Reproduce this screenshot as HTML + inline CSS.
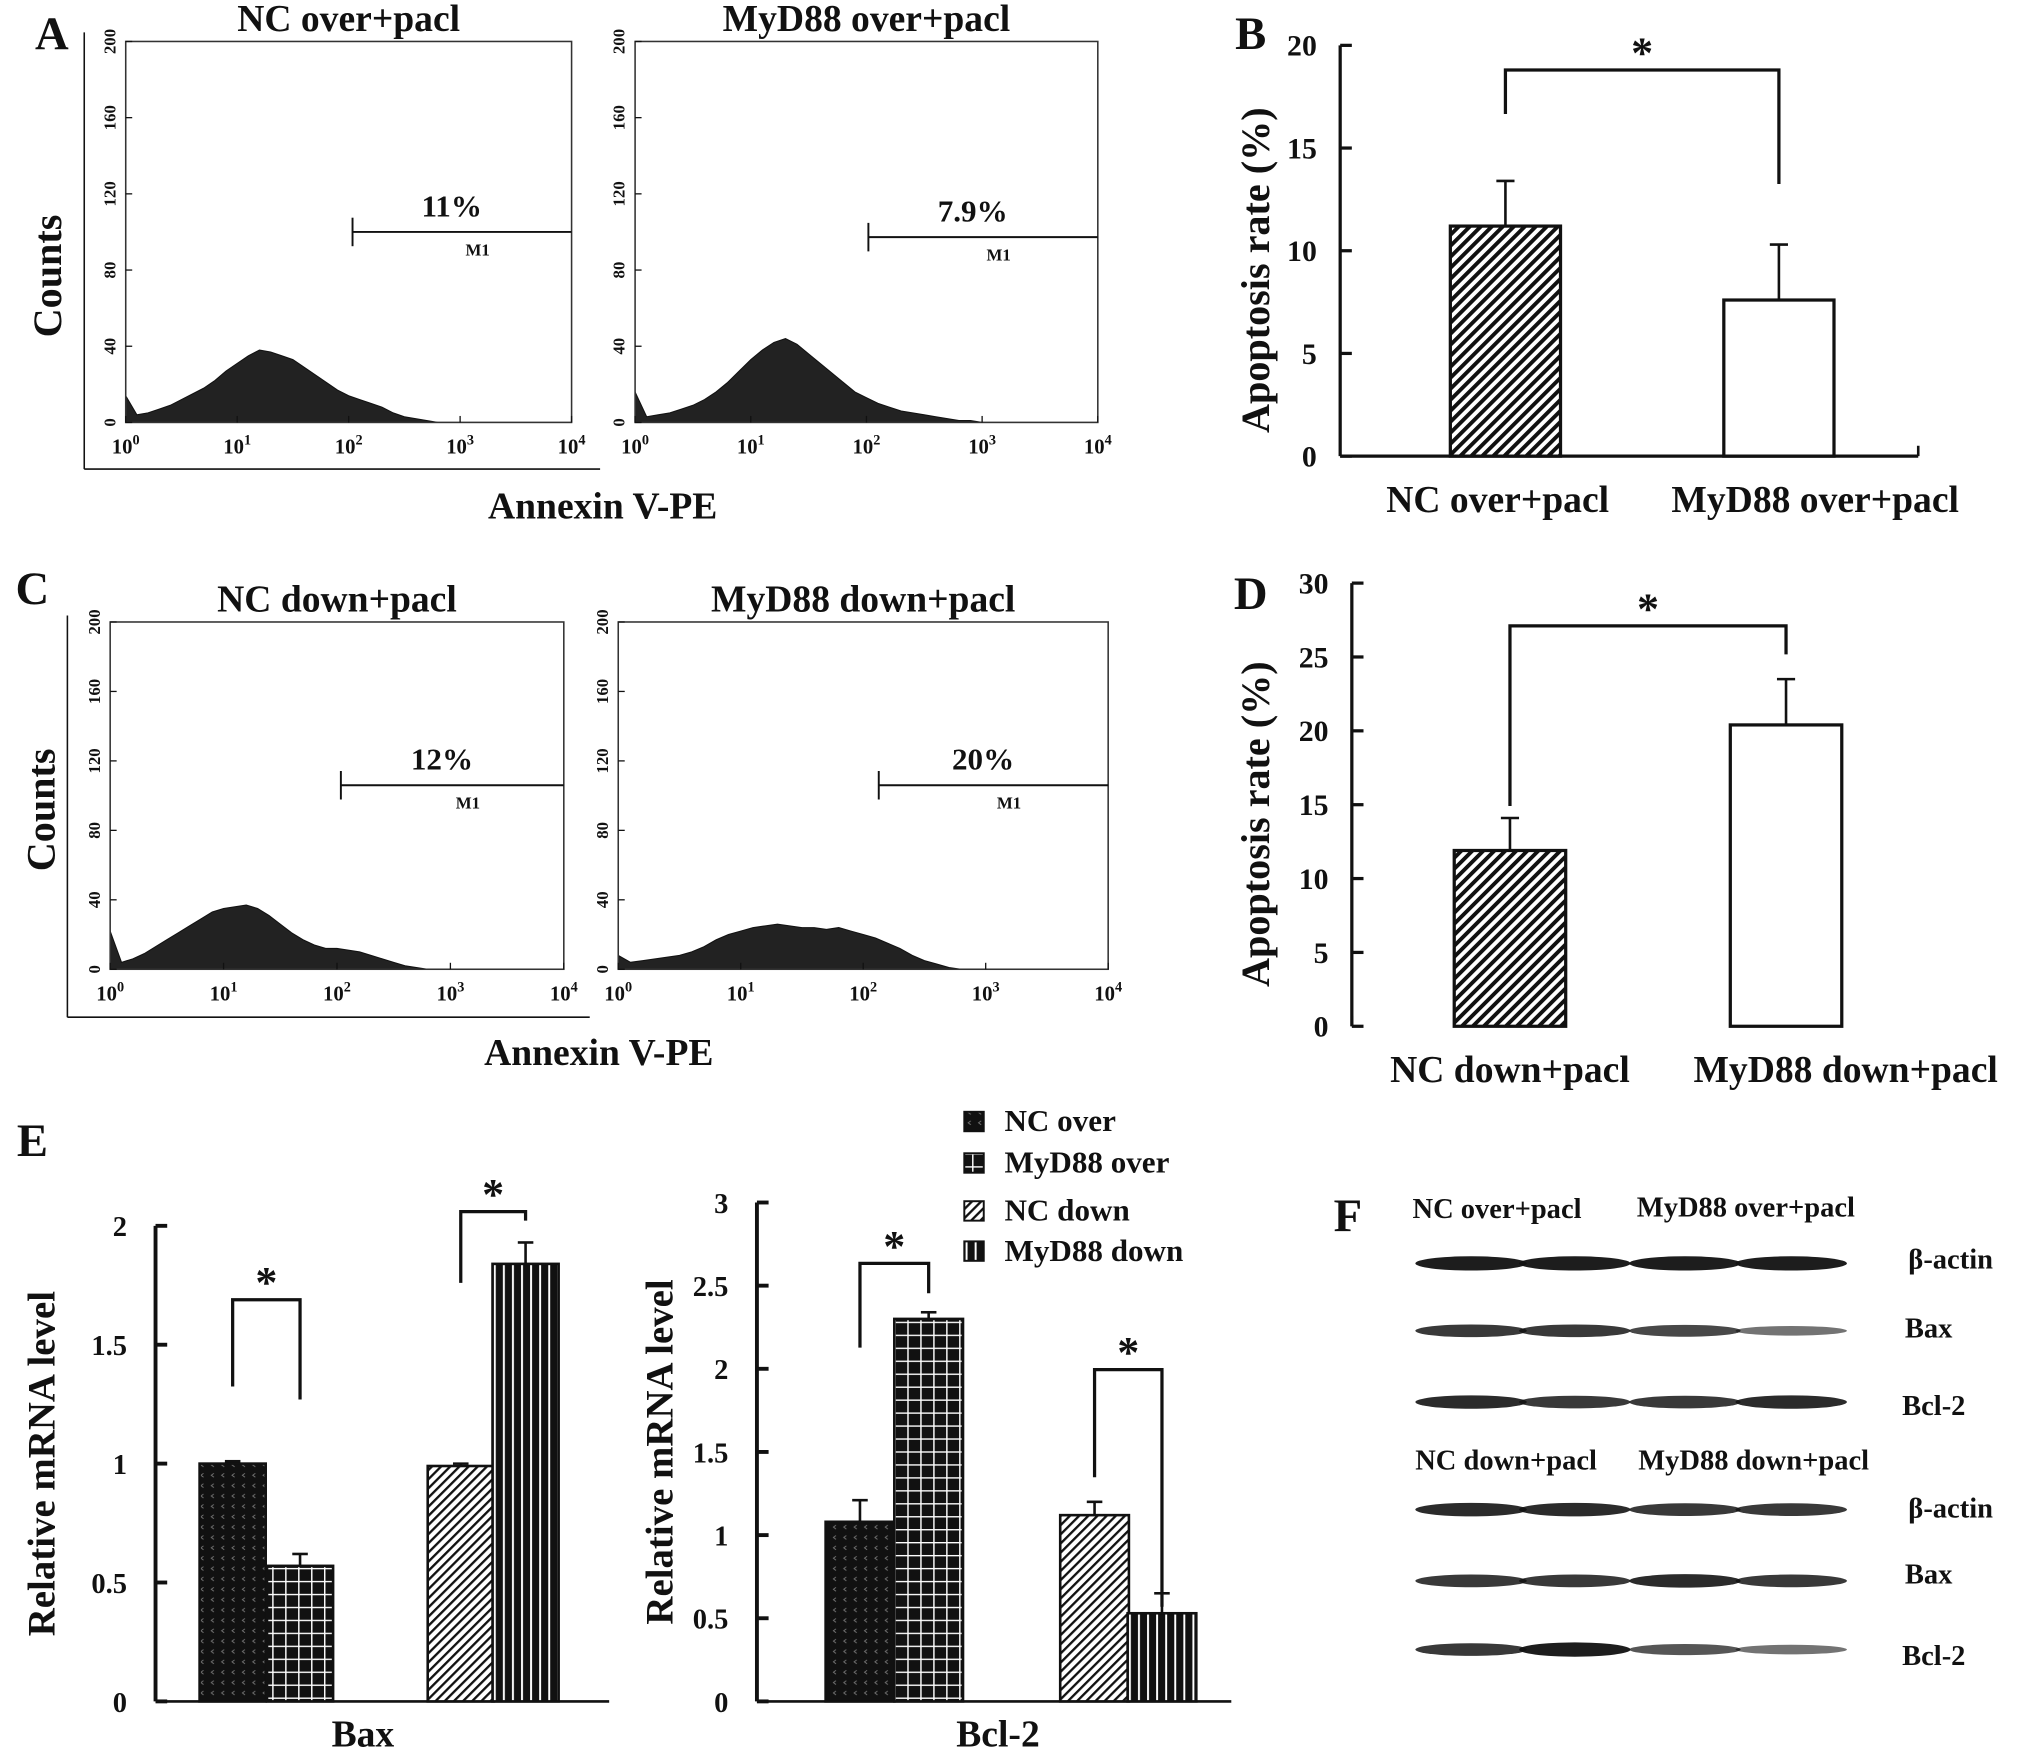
<!DOCTYPE html>
<html><head><meta charset="utf-8">
<style>
html,body{margin:0;padding:0;background:#fff;}
svg{display:block;}
text{font-family:"Liberation Serif",serif;font-weight:bold;fill:#111;}
</style></head>
<body>
<svg id="fig" width="2031" height="1761" viewBox="0 0 1567 1359" preserveAspectRatio="none" xmlns="http://www.w3.org/2000/svg">
<defs>
<pattern id="pDiag" width="6" height="6" patternUnits="userSpaceOnUse" patternTransform="rotate(45)"><rect width="6" height="6" fill="#fff"/><rect width="3" height="6" fill="#111"/></pattern>
<pattern id="pDiag2" width="5" height="5" patternUnits="userSpaceOnUse" patternTransform="rotate(45)"><rect width="5" height="5" fill="#fff"/><rect width="1.8" height="5" fill="#111"/></pattern>
<pattern id="pDots" width="8" height="8" patternUnits="userSpaceOnUse"><rect width="8" height="8" fill="#111"/><path d="M5 1 L3 2.5 L5 4" stroke="#777" stroke-width="0.7" fill="none"/></pattern>
<pattern id="pGrid" width="10" height="10" patternUnits="userSpaceOnUse"><rect width="10" height="10" fill="#111"/><path d="M0 0.5 H10 M0.5 0 V10" stroke="#fff" stroke-width="1.2"/></pattern>
<pattern id="pVert" width="7" height="7" patternUnits="userSpaceOnUse"><rect width="7" height="7" fill="#111"/><rect x="3" width="1.5" height="7" fill="#fff"/></pattern>
</defs>
<g id="root"></g>
</svg>
<script>
// ---- Data ----
const histXLog = [0,0.1,0.2,0.3,0.4,0.5,0.6,0.7,0.8,0.9,1.0,1.1,1.2,1.3,1.4,1.5,1.6,1.7,1.8,1.9,2.0,2.1,2.2,2.3,2.4,2.5,2.6,2.7,2.8,2.9,3.0,3.1,3.2,3.3,3.4,3.5,3.6,3.7,3.8,3.9,4.0];
const histNCover   = [14,4,5,7,9,12,15,18,22,27,31,35,38,37,35,33,29,25,21,17,14,12,10,8,5,3,2,1,0,0,0,0,0,0,0,0,0,0,0,0,0];
const histMyDover  = [16,3,4,5,7,9,12,16,21,27,33,38,42,44,41,36,31,26,21,16,13,10,8,6,5,4,3,2,1,1,0,0,0,0,0,0,0,0,0,0,0];
const histNCdown   = [22,4,6,9,13,17,21,25,29,33,35,36,37,35,31,26,21,17,14,12,12,11,10,8,6,4,2,1,0,0,0,0,0,0,0,0,0,0,0,0,0];
const histMyDdown  = [8,4,5,6,7,8,10,13,17,20,22,24,25,26,25,24,24,23,24,22,20,18,15,12,8,5,3,1,0,0,0,0,0,0,0,0,0,0,0,0,0];
const histYTicks = [0,40,80,120,160,200];
const histXTicks = ["0","1","2","3","4"];

const bCats = ["NC over+pacl","MyD88 over+pacl"];
const bVals = [11.2,7.6];
const bErr  = [2.2,2.7];
const bTicks = [0,5,10,15,20];
const dCats = ["NC down+pacl","MyD88 down+pacl"];
const dVals = [11.9,20.4];
const dErr  = [2.2,3.1];
const dTicks = [0,5,10,15,20,25,30];

const eSeries = ["NC over","MyD88 over","NC down","MyD88 down"];
const baxVals = [1.0,0.57,0.99,1.84];
const baxErr  = [0.01,0.05,0.01,0.09];
const baxTicks = [0,0.5,1,1.5,2];
const bclVals = [1.08,2.30,1.12,0.53];
const bclErr  = [0.13,0.04,0.08,0.12];
const bclTicks = [0,0.5,1,1.5,2,2.5,3];

const root = document.getElementById('root');
const NS = "http://www.w3.org/2000/svg";
function el(tag, attrs, parent){const e=document.createElementNS(NS,tag);for(const k in attrs)e.setAttribute(k,attrs[k]);(parent||root).appendChild(e);return e;}
function txt(x,y,s,size,name,extra){const t=el('text',Object.assign({x:x,y:y,'font-size':size,'text-anchor':'middle'},extra||{}));t.textContent=s;


return t;}
function line(x1,y1,x2,y2,w,name){const l=el('line',{x1,y1,x2,y2,stroke:'#111','stroke-width':w||2});


return l;}

// ---- Flow histograms ----
function hist(cfg){
  const g=el('g',{});
  
  
  const {x0,x1,y0,y1}=cfg;
  const sx=v=>x0+(x1-x0)*v/4, sy=v=>y1-(y1-y0)*v/200;
  let d=`M${sx(0)} ${sy(0)}`;
  cfg.data.forEach((v,i)=>{d+=` L${sx(histXLog[i])} ${sy(v)}`;});
  d+=` L${sx(4)} ${sy(0)} Z`;
  const p=el('path',{d,fill:'#222',stroke:'#111','stroke-width':0.8},g);
  
  
  const r=el('rect',{x:x0,y:y0,width:x1-x0,height:y1-y0,fill:'none',stroke:'#333','stroke-width':1.2},g);
  
  
  histYTicks.forEach(t=>{const y=sy(t);line(x0,y,x0+5,y,1,'y-tick');
    txt(x0-11,y,String(t),13,'y-tick-label',{transform:`rotate(-90 ${x0-11} ${y})`,'font-weight':'normal','dominant-baseline':'middle'});});
  histXTicks.forEach((t,i)=>{const x=sx(i);line(x,y1,x,y1-5,1,'x-tick');
    const tt=txt(x,y1+24,'10',16,'x-tick-label',{'font-weight':'normal'});
    const s=el('tspan',{dy:-7,'font-size':11},tt);s.textContent=t;});
  line(cfg.m0,cfg.my,x1,cfg.my,1.5,'marker-m1');
  line(cfg.m0,cfg.my-11,cfg.m0,cfg.my+11,1.5,'marker-m1-tick');
  txt((cfg.m0+x1)/2-8,cfg.my-12,cfg.pct,24,'percent-label');
  txt((cfg.m0+x1)/2+12,cfg.my+18,'M1',13,'marker-label',{'font-family':'Liberation Sans','font-weight':'normal'});
  txt((x0+x1)/2,y0-8,cfg.title,29,'histogram-title');
}
hist({name:'hist-nc-over',x0:97,x1:441,y0:32,y1:326,data:histNCover,m0:272,my:179,pct:'11%',title:'NC over+pacl'});
hist({name:'hist-myd88-over',x0:490,x1:847,y0:32,y1:326,data:histMyDover,m0:670,my:183,pct:'7.9%',title:'MyD88 over+pacl'});
hist({name:'hist-nc-down',x0:85,x1:435,y0:480,y1:748,data:histNCdown,m0:263,my:606,pct:'12%',title:'NC down+pacl'});
hist({name:'hist-myd88-down',x0:477,x1:855,y0:480,y1:748,data:histMyDdown,m0:678,my:606,pct:'20%',title:'MyD88 down+pacl'});
// outer frames
line(65,25,65,362,1.2,'outer-axis-a');line(65,362,463,362,1.2,'outer-axis-a-bottom');
line(52,475,52,785,1.2,'outer-axis-c');line(52,785,455,785,1.2,'outer-axis-c-bottom');
txt(40,213,'Counts',31,'y-axis-title-a',{transform:'rotate(-90 40 213)','dominant-baseline':'middle'});
txt(35,625,'Counts',31,'y-axis-title-c',{transform:'rotate(-90 35 625)','dominant-baseline':'middle'});
txt(465,400,'Annexin V-PE',29,'x-axis-title-a');
txt(462,822,'Annexin V-PE',29,'x-axis-title-c');
txt(40,38,'A',36,'panel-label-a');txt(25,466,'C',36,'panel-label-c');

// ---- Bar charts B & D ----
function barChart(cfg){
  const {ax,yTop,yBot,max}=cfg;
  const sy=v=>yBot-(yBot-yTop)*v/max;
  line(ax,yTop,ax,yBot,2.5,'y-axis');line(ax,yBot,cfg.xEnd,yBot,2.5,'x-axis');
  cfg.ticks.forEach(t=>{line(ax,sy(t),ax+9,sy(t),2.5,'y-tick');txt(ax-18,sy(t)+8,String(t),23,'y-tick-label',{'text-anchor':'end'});});
  line(cfg.xEnd,yBot,cfg.xEnd,yBot-8,2,'x-end-tick');
  cfg.vals.forEach((v,i)=>{
    const bx=cfg.bx[i],w=cfg.bw;
    const e=cfg.err[i];
    line(bx+w/2,sy(v),bx+w/2,sy(v+e),2,'error-bar');line(bx+w/2-7,sy(v+e),bx+w/2+7,sy(v+e),2,'error-cap');
    const r=el('rect',{x:bx,y:sy(v),width:w,height:yBot-sy(v),fill:i==0?'url(#pDiag)':'#fff',stroke:'#111','stroke-width':2.5});
    
    
    txt(bx+w/2+cfg.lblOff[i],cfg.lblY,cfg.cats[i],29,'x-category-label');
  });
  const c0=cfg.bx[0]+cfg.bw/2,c1=cfg.bx[1]+cfg.bw/2;
  const pb=el('path',{d:`M${c0} ${cfg.brL} V${cfg.brTop} H${c1} V${cfg.brR}`,fill:'none',stroke:'#111','stroke-width':2.5});
  
  
  txt((c0+c1)/2,cfg.brTop-2,'*',34,'significance-star',{'font-weight':'normal'});
  txt(cfg.titleX,(yTop+yBot)/2+15,'Apoptosis rate (%)',31,'y-axis-title',{transform:`rotate(-90 ${cfg.titleX} ${(yTop+yBot)/2+15})`,'dominant-baseline':'middle'});
}
barChart({ax:1034,yTop:35,yBot:352,max:20,xEnd:1480,ticks:bTicks,vals:bVals,err:bErr,cats:bCats,bx:[1119,1330],bw:85,
  lblY:395,lblOff:[-6,28],brTop:54,brL:88,brR:142,titleX:972});
barChart({ax:1043,yTop:450,yBot:792,max:30,xEnd:1043,ticks:dTicks,vals:dVals,err:dErr,cats:dCats,bx:[1122,1335],bw:86,
  lblY:835,lblOff:[0,46],brTop:483,brL:622,brR:505,titleX:972});
txt(965,38,'B',36,'panel-label-b');txt(965,470,'D',36,'panel-label-d');

// ---- Panel E ----
const eFills=['url(#pDots)','url(#pGrid)','url(#pDiag2)','url(#pVert)'];
function eChart(cfg){
  const {ax,yTop,yBot,max}=cfg;
  const sy=v=>yBot-(yBot-yTop)*v/max;
  line(ax,yTop,ax,yBot,3,'y-axis');line(ax,yBot,cfg.xEnd,yBot,2,'x-axis');
  cfg.ticks.forEach(t=>{line(ax,sy(t),ax+9,sy(t),3,'y-tick');txt(ax-22,sy(t)+8,String(t),22,'y-tick-label',{'text-anchor':'end'});});
  cfg.vals.forEach((v,i)=>{
    const bx=cfg.bx[i],w=cfg.bw,e=cfg.err[i];
    line(bx+w/2,sy(v),bx+w/2,sy(v+e),2,'error-bar');line(bx+w/2-6,sy(v+e),bx+w/2+6,sy(v+e),2,'error-cap');
    const r=el('rect',{x:bx,y:sy(v),width:w,height:yBot-sy(v),fill:eFills[i],stroke:'#111','stroke-width':2});
    
    
  });
  cfg.brackets.forEach(b=>{
    const c0=cfg.bx[b[0]]+cfg.bw/2,c1=cfg.bx[b[0]+1]+cfg.bw/2;
    const pb=el('path',{d:`M${c0} ${b[1]} V${b[2]} H${c1} V${b[3]}`,fill:'none',stroke:'#111','stroke-width':2.5});
    
    
    txt((c0+c1)/2,b[2]-2,'*',34,'significance-star',{'font-weight':'normal'});
  });
  txt(cfg.labelX,1348,cfg.label,29,'x-group-label');
  txt(cfg.titleX,(yTop+yBot)/2,'Relative mRNA level',30,'y-axis-title',{transform:`rotate(-90 ${cfg.titleX} ${(yTop+yBot)/2})`,'dominant-baseline':'middle'});
}
eChart({gene:'bax',ax:120,yTop:946,yBot:1313,max:2,xEnd:470,ticks:baxTicks,vals:baxVals,err:baxErr,bx:[154,206,330,380],bw:51,
  brackets:[[0,1070,1003,1080],[2,990,935,942]],label:'Bax',labelX:280,titleX:35});
eChart({gene:'bcl2',ax:584,yTop:928,yBot:1313,max:3,xEnd:950,ticks:bclTicks,vals:bclVals,err:bclErr,bx:[637,690,818,870],bw:53,
  brackets:[[0,1040,975,998],[2,1140,1057,1240]],label:'Bcl-2',labelX:770,titleX:512});
eSeries.forEach((s,i)=>{
  const y=[865,897,934,965][i];
  const r=el('rect',{x:744,y:y-7,width:15,height:15,fill:eFills[i],stroke:'#111','stroke-width':1.5});
  
  
  txt(775,y+8,s,24,'legend-entry',{'text-anchor':'start'});
});
txt(25,892,'E',36,'panel-label-e');

// ---- Panel F blots ----
txt(1040,950,'F',36,'panel-label-f');
const laneX=[1135,1215,1300,1382];
const bandY=[975,1027,1082,1165,1220,1273];
const bandI=[[1,1,1,1],[0.8,0.8,0.7,0.4],[0.9,0.8,0.8,0.9],[0.9,0.9,0.8,0.8],[0.8,0.8,0.9,0.8],[0.8,1,0.6,0.4]];
bandY.forEach((y,r)=>laneX.forEach((x,c)=>{
  const e=el('ellipse',{cx:x,cy:y,rx:43,ry:2.5+3*bandI[r][c],fill:'#111','fill-opacity':0.35+0.6*bandI[r][c]});
  
  
}));
txt(1155,940,'NC over+pacl',22,'blot-group-label');txt(1347,939,'MyD88 over+pacl',22,'blot-group-label');
txt(1162,1134,'NC down+pacl',22,'blot-group-label');txt(1353,1134,'MyD88 down+pacl',22,'blot-group-label');
[['β-actin',1505,979],['Bax',1488,1032],['Bcl-2',1492,1092],['β-actin',1505,1171],['Bax',1488,1222],['Bcl-2',1492,1285]].forEach(a=>txt(a[1],a[2],a[0],22,'blot-protein-label'));
</script>
</body></html>
